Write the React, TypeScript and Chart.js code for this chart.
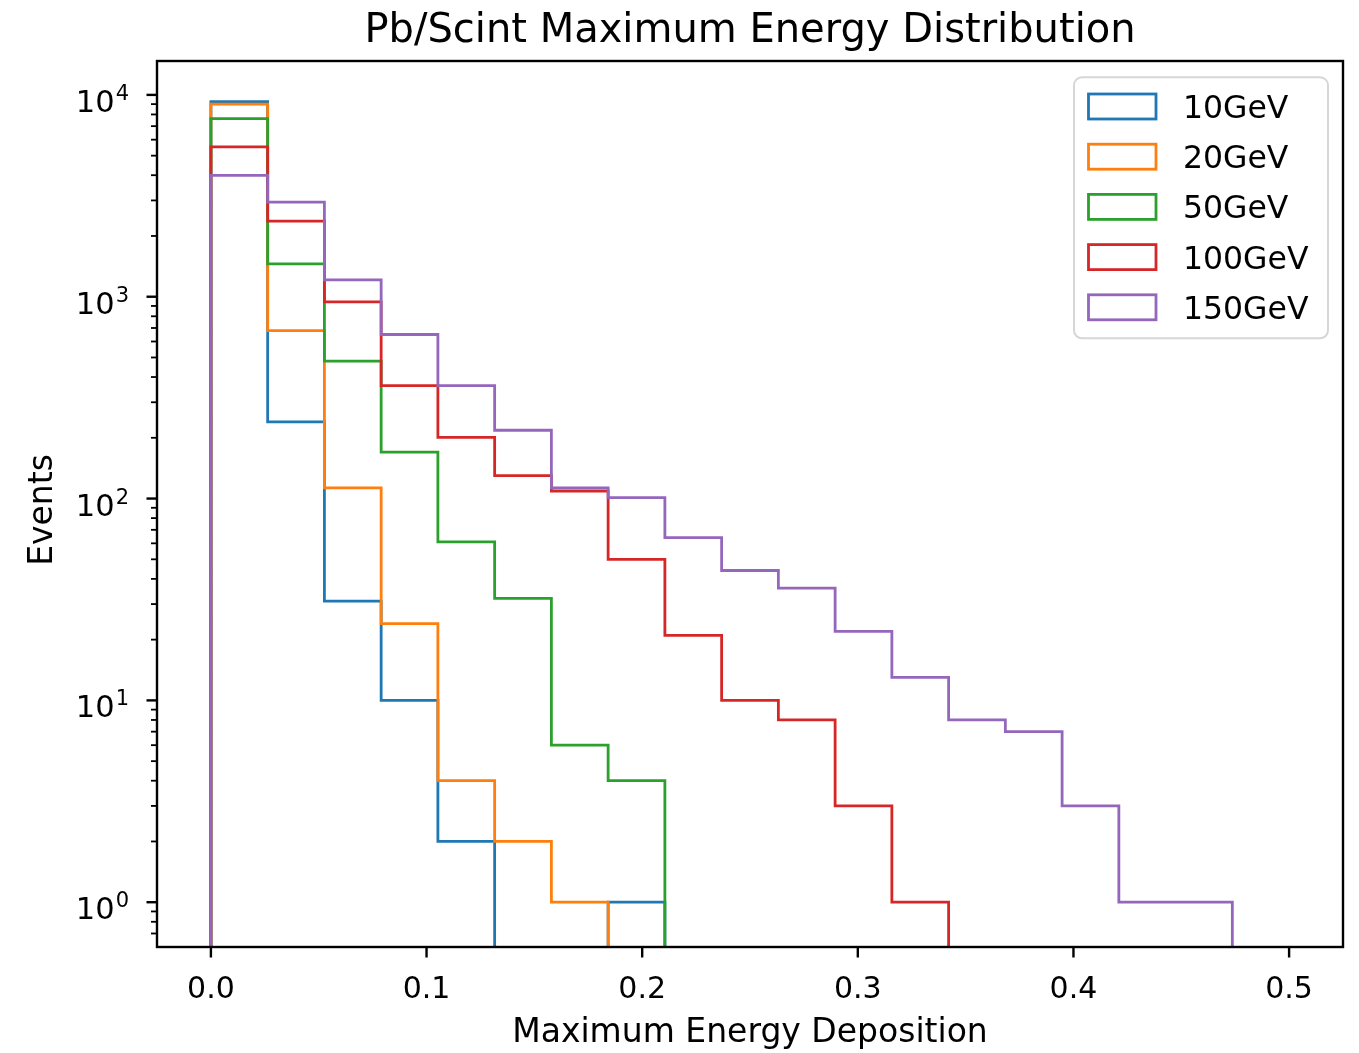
import React, { useEffect, useRef } from "react";
import { Chart, registerables } from "chart.js";

Chart.register(...registerables);

// ---- Text ----
const TITLE = "Pb/Scint Maximum Energy Distribution";
const X_LABEL = "Maximum Energy Deposition";
const Y_LABEL = "Events";

// ---- Histogram binning: 19 equal bins over [0, 0.5] ----
const RANGE_MIN = 0;
const RANGE_MAX = 0.5;
const BIN_COUNT = 19;

// ---- Series ----
const SERIES_LABELS = ["10GeV", "20GeV", "50GeV", "100GeV", "150GeV"];
const SERIES_COLORS = ["#1f77b4", "#ff7f0e", "#2ca02c", "#d62728", "#9467bd"];

// Event counts per bin
const COUNTS_10GEV = [9270, 240, 31, 10, 2, 0, 0, 1, 0, 0, 0, 0, 0, 0, 0, 0, 0, 0, 0];
const COUNTS_20GEV = [9010, 680, 113, 24, 4, 2, 1, 0, 0, 0, 0, 0, 0, 0, 0, 0, 0, 0, 0];
const COUNTS_50GEV = [7620, 1455, 480, 170, 61, 32, 6, 4, 0, 0, 0, 0, 0, 0, 0, 0, 0, 0, 0];
const COUNTS_100GEV = [5530, 2370, 942, 363, 201, 130, 109, 50, 21, 10, 8, 3, 1, 0, 0, 0, 0, 0, 0];
const COUNTS_150GEV = [3990, 2940, 1213, 650, 363, 218, 113, 101, 64, 44, 36, 22, 13, 8, 7, 3, 1, 1, 0];

const SERIES_COUNTS = [COUNTS_10GEV, COUNTS_20GEV, COUNTS_50GEV, COUNTS_100GEV, COUNTS_150GEV];

// ---- Axes ----
const X_TICKS = [0, 0.1, 0.2, 0.3, 0.4, 0.5];
const X_TICK_LABELS = ["0.0", "0.1", "0.2", "0.3", "0.4", "0.5"];
const Y_DECADES = [0, 1, 2, 3, 4];
const X_MIN = -0.025;
const X_MAX = 0.525;
const Y_MIN = 0.635;
const Y_MAX = 14720;

const FONT = '"DejaVu Sans", "Liberation Sans", sans-serif';
const BIN_EDGES = Array.from(
  { length: BIN_COUNT + 1 },
  (_, i) => RANGE_MIN + ((RANGE_MAX - RANGE_MIN) * i) / BIN_COUNT
);
// empty bins sit below the visible log range so their outline is clipped away
const EMPTY = Y_MIN / 10;

function stepOutline(counts: number[]) {
  const pts = [{ x: BIN_EDGES[0], y: EMPTY }];
  counts.forEach((c, i) => pts.push({ x: BIN_EDGES[i], y: c > 0 ? c : EMPTY }));
  pts.push({ x: BIN_EDGES[BIN_COUNT], y: EMPTY });
  return pts;
}

const axesPlugin = {
  id: "mplAxes",
  afterDraw(chart: any) {
    const { ctx, chartArea: a, scales } = chart;
    const xs = scales.x;
    const ys = scales.y;
    ctx.save();

    // frame
    ctx.strokeStyle = "#000";
    ctx.lineWidth = 2.4;
    ctx.strokeRect(a.left, a.top, a.right - a.left, a.bottom - a.top);

    // x ticks + labels
    ctx.fillStyle = "#000";
    ctx.font = `30px ${FONT}`;
    ctx.textAlign = "center";
    ctx.textBaseline = "alphabetic";
    X_TICKS.forEach((v, i) => {
      const px = xs.getPixelForValue(v);
      ctx.lineWidth = 2.4;
      ctx.beginPath();
      ctx.moveTo(px, a.bottom);
      ctx.lineTo(px, a.bottom + 10.5);
      ctx.stroke();
      ctx.fillText(X_TICK_LABELS[i], px, 998);
    });

    // y ticks (major at decades, minor at 2..9)
    for (let d = -1; d <= 4; d++) {
      for (let m = 1; m <= 9; m++) {
        const v = m * Math.pow(10, d);
        if (v < Y_MIN || v > Y_MAX) continue;
        const py = ys.getPixelForValue(v);
        const major = m === 1;
        ctx.lineWidth = major ? 2.4 : 1.8;
        ctx.beginPath();
        ctx.moveTo(a.left, py);
        ctx.lineTo(a.left - (major ? 10.5 : 6), py);
        ctx.stroke();
      }
    }
    // y tick labels: 10^n
    Y_DECADES.forEach((e) => {
      const py = ys.getPixelForValue(Math.pow(10, e));
      const base = "10";
      const sup = String(e);
      ctx.font = `21px ${FONT}`;
      const wSup = ctx.measureText(sup).width;
      ctx.font = `30.5px ${FONT}`;
      const wBase = ctx.measureText(base).width;
      const right = 129;
      ctx.textAlign = "left";
      ctx.fillText(base, right - wSup - 1 - wBase, py + 17);
      ctx.font = `21px ${FONT}`;
      ctx.fillText(sup, right - wSup, py + 5);
    });

    // axis labels
    ctx.font = `33px ${FONT}`;
    ctx.textAlign = "center";
    ctx.fillText(X_LABEL, (a.left + a.right) / 2, 1042);
    ctx.save();
    ctx.translate(51.5, (a.top + a.bottom) / 2 + 6);
    ctx.rotate(-Math.PI / 2);
    ctx.fillText(Y_LABEL, 0, 0);
    ctx.restore();

    // title
    ctx.font = `40px ${FONT}`;
    ctx.fillText(TITLE, (a.left + a.right) / 2, 42);

    // legend
    const lx = 1074, ly = 77.3, lw = 254, lh = 261, r = 8;
    ctx.beginPath();
    ctx.moveTo(lx + r, ly);
    ctx.arcTo(lx + lw, ly, lx + lw, ly + lh, r);
    ctx.arcTo(lx + lw, ly + lh, lx, ly + lh, r);
    ctx.arcTo(lx, ly + lh, lx, ly, r);
    ctx.arcTo(lx, ly, lx + lw, ly, r);
    ctx.closePath();
    ctx.fillStyle = "rgba(255,255,255,0.8)";
    ctx.fill();
    ctx.strokeStyle = "rgba(204,204,204,0.8)";
    ctx.lineWidth = 2;
    ctx.stroke();

    ctx.font = `31.5px ${FONT}`;
    ctx.textAlign = "left";
    SERIES_LABELS.forEach((label, i) => {
      const cy = 106.5 + i * 50.2;
      ctx.strokeStyle = SERIES_COLORS[i];
      ctx.lineWidth = 2.8;
      ctx.strokeRect(1088.5, cy - 12.5, 67.5, 25);
      ctx.fillStyle = "#000";
      ctx.fillText(label, 1183, cy + 11.5);
    });

    ctx.restore();
  },
};

export default function App() {
  const ref = useRef<HTMLCanvasElement>(null);

  useEffect(() => {
    const canvas = ref.current;
    if (!canvas) return;
    const chart = new Chart(canvas, {
      type: "line",
      data: {
        datasets: SERIES_LABELS.map((label, i) => ({
          label,
          data: stepOutline(SERIES_COUNTS[i]),
          borderColor: SERIES_COLORS[i],
          backgroundColor: SERIES_COLORS[i],
          borderWidth: 2.8,
          stepped: "before" as const,
          pointRadius: 0,
          fill: false,
          clip: 0,
          order: SERIES_LABELS.length - 1 - i,
        })),
      },
      options: {
        responsive: false,
        animation: false,
        devicePixelRatio: 1,
        events: [],
        layout: { padding: { left: 157, top: 61, right: 16, bottom: 106 } },
        scales: {
          x: { type: "linear", min: X_MIN, max: X_MAX, display: false },
          y: { type: "logarithmic", min: Y_MIN, max: Y_MAX, display: false },
        },
        plugins: {
          legend: { display: false },
          title: { display: false },
          tooltip: { enabled: false },
        },
      },
      plugins: [axesPlugin],
    });
    return () => chart.destroy();
  }, []);

  return (
    <div style={{ position: "absolute", left: 0, top: 0, width: 1359, height: 1053, background: "#fff" }}>
      <canvas ref={ref} width={1359} height={1053} style={{ display: "block", width: 1359, height: 1053 }} />
    </div>
  );
}
